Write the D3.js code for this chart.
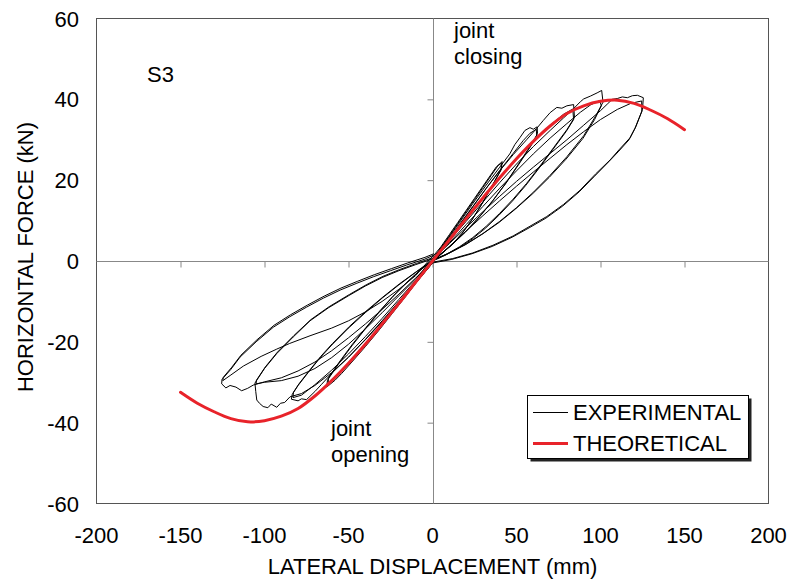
<!DOCTYPE html>
<html><head><meta charset="utf-8">
<script src="https://cdn.jsdelivr.net/npm/d3@7"></script>
<style>body{margin:0;background:#fff}svg text{font-family:Arial,"Liberation Sans",sans-serif;fill:#000}</style>
</head><body><svg id="c" width="791" height="581"></svg>
<script>
const xTicks=[-200,-150,-100,-50,0,50,100,150,200];
const yTicks=[-60,-40,-20,0,20,40,60];
const theoX=[-150,-140,-130,-120,-110,-100,-90,-80,-70,-60,-50,-40,-30,-20,-10,0,10,20,30,40,50,60,70,80,90,100,110,120,130,140,150];
const theoY=[-32.5,-35.2,-37.3,-39.0,-39.8,-39.5,-38.4,-36.5,-33.4,-29.6,-25.3,-20.6,-15.6,-10.5,-5.2,0,5.2,10.5,15.6,20.6,25.3,29.6,33.4,36.5,38.4,39.5,39.8,39.0,37.3,35.2,32.5];
const posLoop40=[[0,1],[5,3.5],[10,6.5],[15,9.5],[20,12.5],[25,15.5],[30,18.5],[35,21.5],[38,23.3],[41.5,24.6],[41,22.8],[36,19],[30,14.5],[24,10.5],[18,7],[12,4.2],[6,2],[0,0.3],[5,3.2],[10,6.2],[15,9.2],[20,12.2],[25,15.2],[30,18.2],[35,21.2],[39,23.6],[41,24.2],[40.8,22.5],[35.5,18.6],[29.5,14.2],[23.5,10.2],[17.5,6.8],[11.5,4],[5.5,1.8],[0,0]];
const posLoop60=[[0,0.5],[8,4.8],[16,9.5],[24,14.2],[32,18.8],[40,23.2],[46,26.5],[49,28.8],[52,30.5],[55,32.3],[58,33],[60,32.6],[62.3,33.2],[62.5,31.5],[59,29],[52,24.5],[44,19.5],[36,15],[28,11],[20,7.4],[12,4.2],[5,1.8],[0,0.2],[8,4.2],[16,8.8],[24,13.4],[32,18],[40,22.4],[48,26.6],[54,29.8],[58,31.6],[61.8,32.6],[62,31],[58.5,28.4],[51.5,24],[43.5,19.1],[35.5,14.7],[27.5,10.7],[19.5,7.1],[11.5,4],[4.5,1.6],[0,0]];
const posLoop80=[[0,0.5],[8,4.5],[16,9],[24,13.5],[32,18],[40,22.3],[48,26.3],[56,30],[62,32.8],[66,34.8],[70,36.7],[74,38],[77,37.8],[80,38.4],[84,38.7],[84.5,35.5],[80,32.5],[72,28],[64,23.5],[56,19.2],[48,15.3],[40,11.8],[32,8.6],[24,5.8],[16,3.5],[8,1.6],[0,0.2],[8,4],[16,8.2],[24,12.4],[32,16.6],[40,20.6],[48,24.4],[56,28],[64,31.3],[72,34.3],[78,36.3],[83.5,37.6],[84,35],[79.5,32],[71.5,27.5],[63.5,23],[55.5,18.7],[47.5,14.8],[39.5,11.3],[31.5,8.1],[23.5,5.4],[15.5,3.2],[7.5,1.4],[0,0]];
const posLoop100=[[0,0.5],[10,5],[20,9.8],[30,14.6],[40,19.4],[50,24],[60,28.3],[70,32.3],[78,35.4],[84,37.7],[88,39.4],[90,40.1],[94,40.8],[98,41.6],[100.7,42.2],[101.5,39.3],[97,35.8],[90,31],[80,25.8],[70,21.2],[60,17],[50,13.2],[40,9.8],[30,6.8],[20,4.2],[10,2],[0,0.2],[10,4.5],[20,9],[30,13.5],[40,18],[50,22.3],[60,26.5],[70,30.4],[80,34],[88,36.8],[94,38.6],[99.5,39.7],[100.5,38.4],[96.5,35],[89.5,30.3],[79.5,25.2],[69.5,20.7],[59.5,16.6],[49.5,12.9],[39.5,9.5],[29.5,6.6],[19.5,4],[9.5,1.9],[0,0]];
const posLoop125=[[0,0.5],[10,4.3],[20,8.3],[30,12.2],[40,16],[50,19.7],[60,23.2],[70,26.6],[80,30],[90,33.6],[100,37.2],[104,38.8],[107,40],[110,40.2],[113,40.6],[116,40.4],[119,40.9],[122,41],[125.5,40.4],[125,37.5],[121,33.2],[117.6,30.5],[111,27.5],[105.7,25],[97,21.5],[87.8,17.5],[78,14],[68,11],[58,8.6],[48,6.2],[36,3.9],[24,2],[12,0.6],[0,-0.3],[10,3.6],[20,7.4],[30,11.2],[40,14.9],[50,18.5],[60,22],[70,25.4],[80,28.8],[90,32],[100,35],[110,37.5],[118,39],[124.5,39.6],[124.6,37],[120.5,32.8],[117,30],[110.5,27],[105,24.6],[96.5,21],[87.3,17.1],[77.5,13.6],[67.5,10.6],[57.5,8.2],[47.5,5.9],[35.5,3.6],[23.5,1.8],[11.5,0.4],[0,-0.5]];
const negLoop60=[[0,-0.5],[-8,-4.5],[-16,-8.8],[-24,-13],[-32,-17.2],[-40,-21.2],[-48,-25],[-54,-27.8],[-58,-29.5],[-63,-31.2],[-62.5,-29.5],[-56,-25.5],[-48,-21],[-40,-16.8],[-32,-12.8],[-24,-9],[-16,-5.6],[-8,-2.5],[0,0],[-8,-4.2],[-16,-8.4],[-24,-12.6],[-32,-16.7],[-40,-20.6],[-48,-24.3],[-56,-27.8],[-62,-30.4],[-62,-29],[-55.5,-25],[-47.5,-20.5],[-39.5,-16.4],[-31.5,-12.4],[-23.5,-8.7],[-15.5,-5.4],[-7.5,-2.3],[0,0.2]];
const negLoop80=[[0,-0.5],[-10,-5.2],[-20,-10],[-30,-14.8],[-40,-19.4],[-50,-23.8],[-60,-27.8],[-66,-30.5],[-70,-32.3],[-75,-34.3],[-78,-34.1],[-80,-34.6],[-84,-34.2],[-83.5,-33],[-80,-30.8],[-74,-27.6],[-67,-24],[-60,-20.8],[-50,-16.6],[-40,-12.8],[-30,-9.2],[-20,-5.9],[-10,-2.8],[0,0],[-10,-4.8],[-20,-9.5],[-30,-14.2],[-40,-18.7],[-50,-23],[-60,-27],[-70,-30.6],[-78,-33.2],[-83,-33.8],[-82.8,-32.5],[-79.5,-30.4],[-73.5,-27.2],[-66.5,-23.6],[-59.5,-20.4],[-49.5,-16.2],[-39.5,-12.4],[-29.5,-8.9],[-19.5,-5.6],[-9.5,-2.6],[0,0.3]];
const negLoop100=[[0,-0.5],[-10,-5.5],[-20,-10.3],[-30,-15],[-40,-19.5],[-50,-23.8],[-60,-27.6],[-70,-30.8],[-78,-32.8],[-84.8,-33.6],[-88,-35],[-90.5,-35.2],[-92.7,-36.2],[-96,-35.4],[-98,-36.3],[-100.8,-36],[-103,-35.2],[-104.6,-34.4],[-105.2,-32.3],[-105.7,-30.2],[-100,-26.6],[-92.7,-22.9],[-82.9,-18.8],[-72.9,-14.8],[-62,-11.6],[-50,-8.6],[-40,-6.2],[-30,-4.1],[-20,-2.4],[-10,-0.9],[0,0.5],[-10,-4.4],[-20,-8.6],[-30,-12.8],[-40,-16.8],[-50,-20.6],[-60,-23.9],[-70,-26.6],[-80,-28.5],[-90,-29.6],[-100,-30],[-105,-30.4],[-104.8,-29.5],[-99.5,-26.2],[-92.2,-22.5],[-82.4,-18.4],[-72.4,-14.5],[-61.5,-11.3],[-49.5,-8.3],[-39.5,-5.9],[-29.5,-3.8],[-19.5,-2.1],[-9.5,-0.6],[0,0.8]];
const negLoop125=[[0,-0.3],[-10,-4.2],[-20,-8.2],[-30,-12],[-40,-15.6],[-50,-19],[-60,-22.2],[-70,-25],[-80,-27.2],[-90,-28.9],[-100,-29.9],[-106.7,-30.7],[-110,-31.5],[-113.6,-32.1],[-117,-31.2],[-120.5,-30.8],[-123,-31.4],[-125.5,-30.4],[-125.3,-29.3],[-120,-26.8],[-114.6,-23.8],[-105,-20],[-94.8,-16.4],[-85,-13.8],[-74.9,-11.4],[-65,-9.2],[-55,-7.2],[-45,-5.5],[-35.2,-3.9],[-25,-2.4],[-15.4,-1],[-5,0.4],[0.5,1.4],[-10,-3.6],[-20,-7],[-30,-10],[-40,-12.6],[-50,-14.8],[-60,-16.6],[-72.9,-18.5],[-85,-20.4],[-92.7,-21.8],[-102,-23.6],[-112.6,-26],[-120,-28.2],[-124.8,-29.6],[-124.6,-28.8],[-119.5,-26.3],[-114,-23.3],[-104.5,-19.5],[-94.3,-15.9],[-84.5,-13.3],[-74.4,-10.9],[-64.5,-8.7],[-54.5,-6.7],[-44.5,-5],[-34.7,-3.4],[-24.5,-1.9],[-14.9,-0.5],[-4.5,0.9],[0.8,1.8]];
const experimental=[posLoop40,negLoop60,posLoop60,negLoop80,posLoop80,negLoop100,posLoop100,negLoop125,posLoop125];

const svg=d3.select("#c");
const L=96.5,R=768.5,T=18.5,B=503.5;
const FS=22;
const x=d3.scaleLinear().domain([-200,200]).range([L,R]);
const y=d3.scaleLinear().domain([-60,60]).range([B,T]);

svg.append("defs").append("clipPath").attr("id","clip").append("rect").attr("x",L).attr("y",T).attr("width",R-L).attr("height",B-T);

svg.append("rect").attr("x",L).attr("y",T).attr("width",R-L).attr("height",B-T).attr("fill","none").attr("stroke","#555").attr("stroke-width",1);

const xAx=svg.append("g").attr("transform",`translate(0,${Math.round(y(0))+0.5})`)
  .call(d3.axisBottom(x).tickValues(xTicks.filter(v=>v>-200&&v<200)).tickSize(6).tickFormat(""));
const yAx=svg.append("g").attr("transform",`translate(${Math.round(x(0))+0.5},0)`)
  .call(d3.axisLeft(y).tickValues(yTicks.filter(v=>v>-60&&v<60)).tickSize(6).tickFormat(""));
[xAx,yAx].forEach(g=>{g.select(".domain").attr("stroke","#888");g.selectAll(".tick line").attr("stroke","#888");});
xAx.select(".domain").attr("d",`M${L},0H${R}`);
yAx.select(".domain").attr("d",`M0,${T}V${B}`);

svg.append("g").selectAll("text").data(xTicks).join("text")
  .attr("x",d=>x(d)).attr("y",543).attr("text-anchor","middle").attr("font-size",FS).text(d=>d);
svg.append("g").selectAll("text").data(yTicks).join("text")
  .attr("x",79).attr("y",d=>y(d)+8).attr("text-anchor","end").attr("font-size",FS).text(d=>d);

svg.append("text").attr("x",x(0)).attr("y",574).attr("text-anchor","middle").attr("font-size",FS).text("LATERAL DISPLACEMENT (mm)");
svg.append("text").attr("transform",`translate(33,${y(0)-4}) rotate(-90)`).attr("text-anchor","middle").attr("font-size",FS).text("HORIZONTAL FORCE (kN)");

const line=d3.line().x(d=>x(d[0])).y(d=>y(d[1]));
const plot=svg.append("g").attr("clip-path","url(#clip)");
plot.selectAll("path.exp").data(experimental).join("path").attr("class","exp")
  .attr("d",line).attr("fill","none").attr("stroke","#000").attr("stroke-width",1).attr("stroke-linejoin","round");
const theo=theoX.map((v,i)=>[v,theoY[i]]);
plot.append("path").datum(theo).attr("d",d3.line().x(d=>x(d[0])).y(d=>y(d[1])).curve(d3.curveCatmullRom))
  .attr("fill","none").attr("stroke","#e8232a").attr("stroke-width",3).attr("stroke-linecap","round");

svg.append("text").attr("x",147).attr("y",82).attr("font-size",FS).text("S3");
svg.append("text").attr("x",454).attr("y",38).attr("font-size",FS).text("joint");
svg.append("text").attr("x",454).attr("y",64).attr("font-size",FS).text("closing");
svg.append("text").attr("x",331).attr("y",436).attr("font-size",FS).text("joint");
svg.append("text").attr("x",331).attr("y",462).attr("font-size",FS).text("opening");

const lg=svg.append("g");
lg.append("rect").attr("x",530.5).attr("y",398.5).attr("width",221).attr("height",63).attr("fill","#222");
lg.append("rect").attr("x",527.5).attr("y",395.5).attr("width",221).attr("height",63).attr("fill","#fff").attr("stroke","#000").attr("stroke-width",1);
lg.append("line").attr("x1",533).attr("x2",568).attr("y1",412.5).attr("y2",412.5).attr("stroke","#000").attr("stroke-width",1);
lg.append("line").attr("x1",533).attr("x2",568).attr("y1",443.5).attr("y2",443.5).attr("stroke","#e8232a").attr("stroke-width",3);
lg.append("text").attr("x",573).attr("y",420).attr("font-size",FS).text("EXPERIMENTAL");
lg.append("text").attr("x",573).attr("y",451).attr("font-size",FS).text("THEORETICAL");
</script></body></html>
